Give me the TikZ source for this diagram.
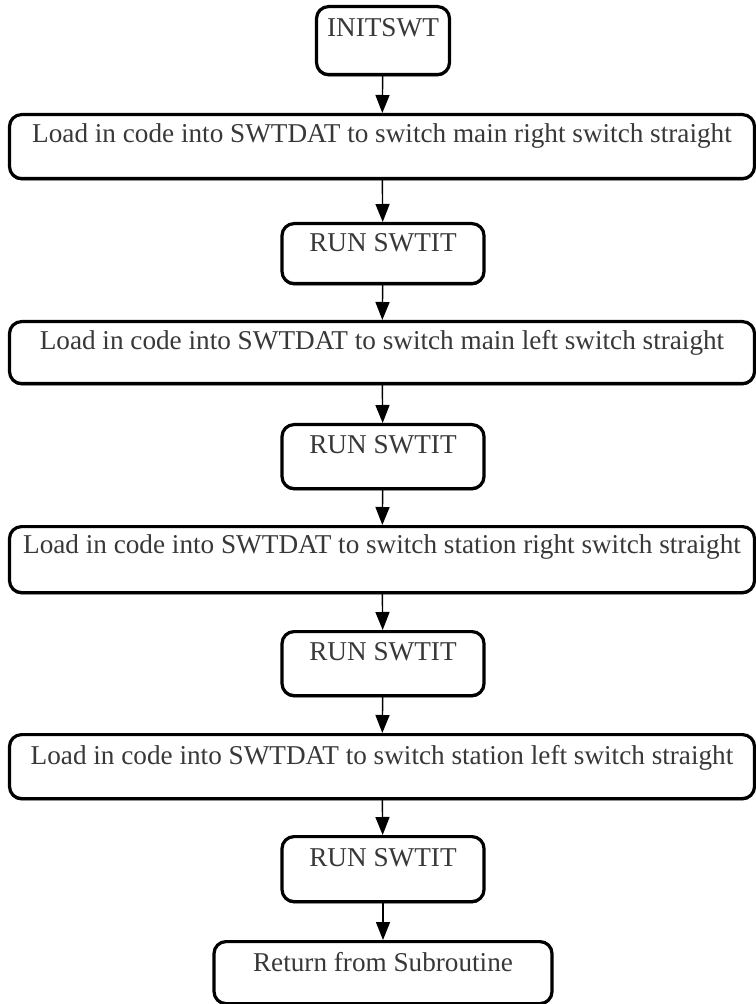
\documentclass[tikz,border=0pt]{standalone}
\usepackage{fontspec}
\setmainfont{Liberation Serif}
\usetikzlibrary{arrows.meta,shadows}
\begin{document}
\begin{tikzpicture}[x=0.5pt,y=-0.5pt,
  box/.style={draw=black, fill=white, rounded corners=6pt, line width=1.6pt,
    inner xsep=0pt, inner ysep=0pt, text height=14.5pt, text depth=17.5pt,
    anchor=north, font=\fontsize{13.6}{16}\selectfont, text=black!78,
    drop shadow={shadow xshift=0pt, shadow yshift=-0.9pt, opacity=1, fill=black}},
  wide/.style={box, minimum width=372.5pt},
  run/.style={box, minimum width=101pt},
  flow/.style={-{Triangle[width=7pt,length=9pt]}, line width=0.7pt}]
\useasboundingbox (0,0) rectangle (755,1004);

% start node
\node[box, minimum width=66.5pt, text height=15pt, text depth=19pt] (init) at (383,5) {INITSWT};

% switch set-up steps, each followed by a call of SWTIT
\node[wide, text height=14pt, text depth=18pt] (b1) at (382,113) {Load in code into SWTDAT to switch main right switch straight};
\node[run, text height=14pt, text depth=16pt] (r1) at (383,222) {RUN SWTIT};
\node[wide, text height=14pt, text depth=17pt] (b2) at (382,320) {Load in code into SWTDAT to switch main left switch straight};
\node[run] (r2) at (383,423) {RUN SWTIT};
\node[wide, text height=13.5pt, text depth=19.5pt] (b3) at (382,525) {Load in code into SWTDAT to switch station right switch straight};
\node[run] (r3) at (383,630) {RUN SWTIT};
\node[wide, text height=15pt, text depth=17pt] (b4) at (382,733) {Load in code into SWTDAT to switch station left switch straight};
\node[run, text height=15pt, text depth=17.5pt] (r4) at (383,835) {RUN SWTIT};

% end node
\node[box, minimum width=169pt, text height=15pt, text depth=16pt] (ret) at (383,940) {Return from Subroutine};

\draw[flow] (init) -- (b1);
\draw[flow] (b1) -- (r1);
\draw[flow] (r1) -- (b2);
\draw[flow] (b2) -- (r2);
\draw[flow] (r2) -- (b3);
\draw[flow] (b3) -- (r3);
\draw[flow] (r3) -- (b4);
\draw[flow] (b4) -- (r4);
\draw[flow] (r4) -- (ret);
\end{tikzpicture}
\end{document}
